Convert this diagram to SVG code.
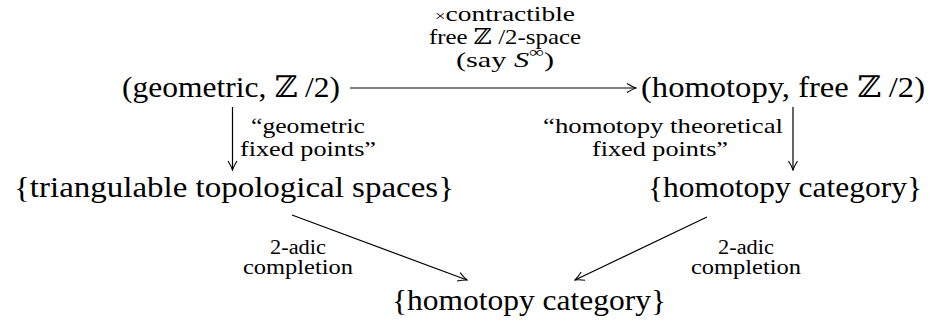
<svg xmlns="http://www.w3.org/2000/svg" width="940" height="320" viewBox="0 0 940 320">
<style>
text{font-family:"Liberation Serif","DejaVu Serif",serif;fill:#000}
.n{font-size:29.5px}
.l{font-size:22px;text-anchor:middle}
.s{font-size:20.5px;text-anchor:middle}
.e{stroke:#000;stroke-width:1.2;fill:none;marker-end:url(#ah)}
</style>
<defs>
<marker id="ah" viewBox="-11 -6 12 12" refX="0" refY="0" markerWidth="12" markerHeight="12" orient="auto" markerUnits="userSpaceOnUse">
<path d="M-9,-4.5 Q-3.5,-1 0,0 Q-3.5,1 -9,4.5" fill="none" stroke="#000" stroke-width="1.1"/>
</marker>
</defs>
<rect width="940" height="320" fill="#fff"/>
<g id="edges">
<line class="e" x1="350" y1="88" x2="636" y2="88"/>
<line class="e" x1="232.5" y1="107" x2="232.5" y2="170"/>
<line class="e" x1="793" y1="107" x2="793" y2="170"/>
<line class="e" x1="292" y1="215" x2="467" y2="280"/>
<line class="e" x1="707" y1="217" x2="575" y2="280"/>
</g>
<g id="edge-labels">
<text class="l" x="505" y="20.5" textLength="140" lengthAdjust="spacingAndGlyphs"><tspan font-size="15">×</tspan>contractible</text>
<text class="l" x="505" y="43.5" textLength="152" lengthAdjust="spacingAndGlyphs">free ℤ /2-space</text>
<text class="l" x="505" y="67" textLength="98" lengthAdjust="spacingAndGlyphs">(say <tspan font-style="italic">S</tspan><tspan font-size="15" dy="-10">∞</tspan><tspan dy="10">)</tspan></text>
<text class="l" x="308" y="133" textLength="114" lengthAdjust="spacingAndGlyphs">“geometric</text>
<text class="l" x="308" y="156" textLength="136" lengthAdjust="spacingAndGlyphs">fixed points”</text>
<text class="l" x="663" y="133" textLength="240" lengthAdjust="spacingAndGlyphs">“homotopy theoretical</text>
<text class="l" x="660" y="156" textLength="136" lengthAdjust="spacingAndGlyphs">fixed points”</text>
<text class="s" x="298" y="253.5" textLength="56" lengthAdjust="spacingAndGlyphs">2-adic</text>
<text class="s" x="298" y="274" textLength="110" lengthAdjust="spacingAndGlyphs">completion</text>
<text class="s" x="746" y="253.5" textLength="56" lengthAdjust="spacingAndGlyphs">2-adic</text>
<text class="s" x="746" y="274" textLength="110" lengthAdjust="spacingAndGlyphs">completion</text>
</g>
<g id="n-geo"><text class="n" x="122" y="97" textLength="218" lengthAdjust="spacingAndGlyphs">(geometric, ℤ /2)</text></g>
<g id="n-hfree"><text class="n" x="641" y="97" textLength="284" lengthAdjust="spacingAndGlyphs">(homotopy, free  ℤ /2)</text></g>
<g id="n-tri"><text class="n" x="14" y="197" textLength="440" lengthAdjust="spacingAndGlyphs">{triangulable topological spaces}</text></g>
<g id="n-hcat1"><text class="n" x="648" y="197" textLength="274" lengthAdjust="spacingAndGlyphs">{homotopy category}</text></g>
<g id="n-hcat2"><text class="n" x="392" y="310" textLength="274" lengthAdjust="spacingAndGlyphs">{homotopy category}</text></g>
</svg>
